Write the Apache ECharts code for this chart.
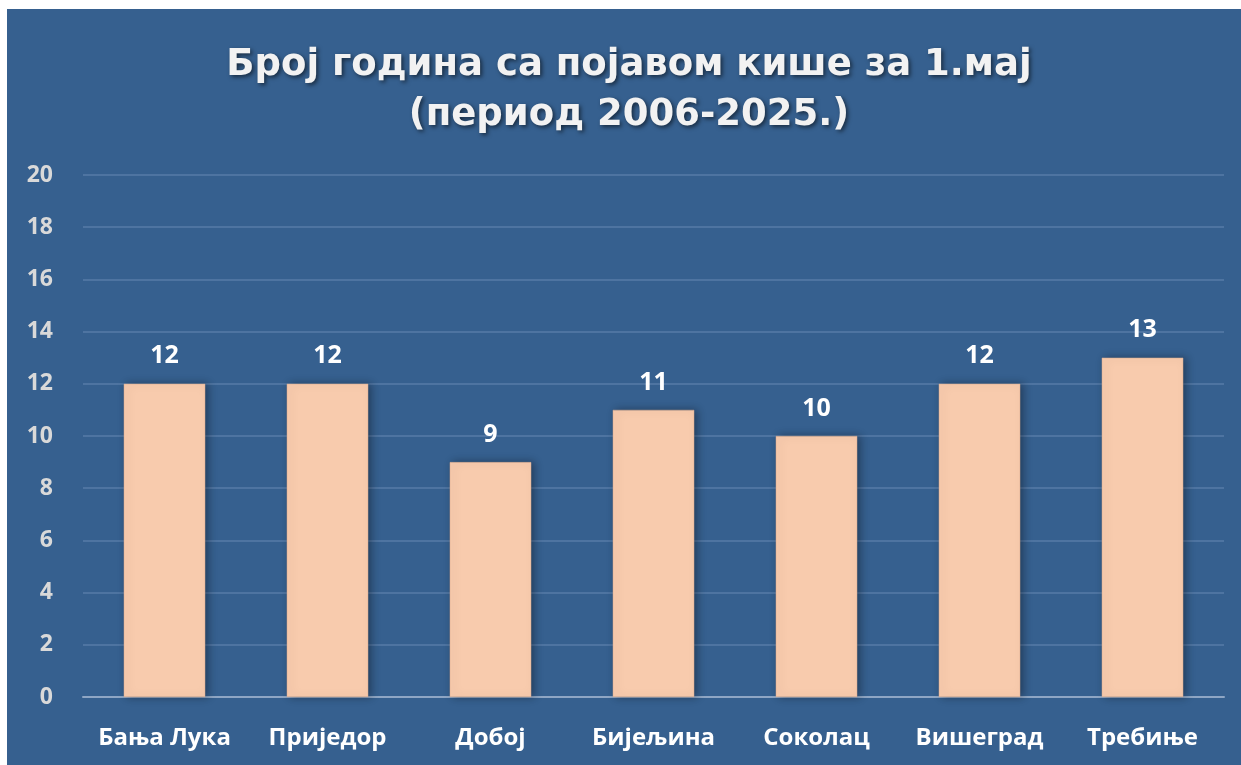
<!DOCTYPE html>
<html>
<head>
<meta charset="utf-8">
<script src="https://cdn.jsdelivr.net/npm/echarts@6/dist/echarts.min.js"></script>
<style>
  html, body { margin: 0; padding: 0; background: #ffffff; }
  #chart { position: absolute; left: 7px; top: 9px; width: 1234px; height: 756px; }
</style>
</head>
<body>
<div id="chart"></div>
<script>
// подаци
var stations = ['Бања Лука', 'Приједор', 'Добој', 'Бијељина', 'Соколац', 'Вишеград', 'Требиње']
var rainYears = [12, 12, 9, 11, 10, 12, 13]
var yTicks = [0, 2, 4, 6, 8, 10, 12, 14, 16, 18, 20]

var myChart = echarts.init(document.getElementById('chart'))

var option = {
  backgroundColor: '#36608F',
  animation: false,
  title: {
    text: 'Број година са појавом кише за 1.мај\n(период 2006-2025.)',
    left: 617,
    textAlign: 'center',
    top: 26,
    textStyle: {
      color: '#F2F2F2',
      fontFamily: 'DejaVu Sans',
      fontWeight: 'bold',
      fontSize: 37,
      lineHeight: 50,
      textShadowColor: 'rgba(0,0,0,0.55)',
      textShadowBlur: 4,
      textShadowOffsetX: 2,
      textShadowOffsetY: 2
    }
  },
  grid: {
    left: 76,
    right: 17,
    top: 166,
    bottom: 68
  },
  xAxis: {
    type: 'category',
    data: stations,
    axisTick: { show: false },
    axisLine: { lineStyle: { color: '#8FA6C4', width: 2 } },
    axisLabel: {
      interval: 0,
      color: '#FFFFFF',
      fontFamily: 'Open Sans',
      fontWeight: 'bold',
      fontSize: 24,
      margin: 29
    }
  },
  yAxis: {
    type: 'value',
    min: yTicks[0],
    max: yTicks[yTicks.length - 1],
    interval: 2,
    axisLine: { show: false },
    axisTick: { show: false },
    splitLine: { lineStyle: { color: '#4E74A1', width: 2 } },
    axisLabel: {
      color: '#D9D9D9',
      fontFamily: 'Open Sans',
      fontWeight: 'bold',
      fontSize: 23,
      margin: 30
    }
  },
  series: [
    {
      type: 'bar',
      data: rainYears,
      barWidth: '50%',
      itemStyle: {
        color: '#F8CBAD',
        borderColor: '#D9A98C',
        borderWidth: 0.5,
        shadowColor: 'rgba(0,0,0,0.35)',
        shadowBlur: 8,
        shadowOffsetX: 3,
        shadowOffsetY: 0
      },
      label: {
        show: true,
        position: 'top',
        distance: 15,
        color: '#FFFFFF',
        fontFamily: 'Open Sans',
        fontWeight: 'bold',
        fontSize: 25
      }
    }
  ]
}

myChart.setOption(option)
</script>
</body>
</html>
